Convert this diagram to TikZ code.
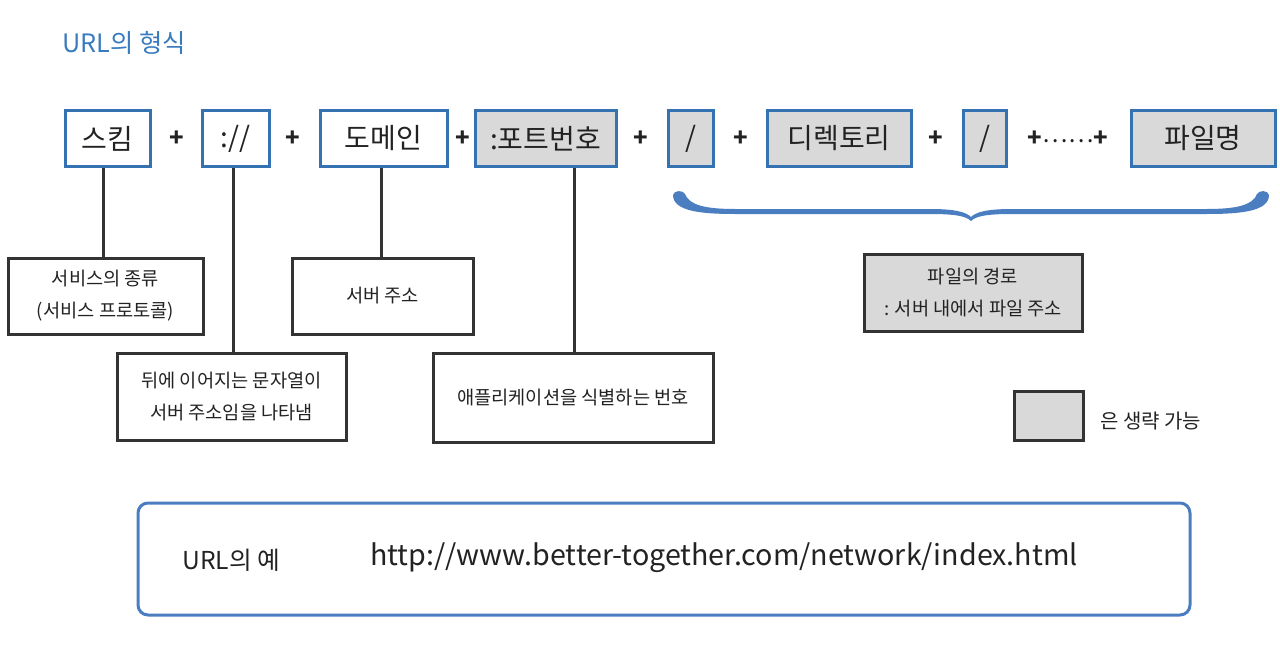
\documentclass[tikz,border=0pt]{standalone}
\usepackage{fontspec}
\setmainfont{Noto Sans CJK KR}
\newdimen\pxu \pxu=0.75pt
\definecolor{bluebd}{HTML}{3572B1}
\definecolor{titleblue}{HTML}{3A7BBF}
\definecolor{bracebl}{HTML}{4A7EC0}
\definecolor{grayfill}{HTML}{D9D9D9}
\definecolor{darkbd}{HTML}{333333}
\definecolor{txt}{HTML}{222222}
\tikzset{
  topbox/.style={draw=bluebd, line width=3\pxu, minimum height=55\pxu, inner sep=0pt, text=txt, font=\fontsize{21}{24}\selectfont},
  opt/.style={fill=grayfill},
  expbox/.style={draw=darkbd, line width=3\pxu, fill=white, inner sep=0pt, align=center, text=txt, font=\fontsize{14}{24}\selectfont},
  plus/.style={text=txt, inner sep=0pt, font=\fontsize{18}{20}\selectfont\bfseries},
  conn/.style={draw=darkbd, line width=3\pxu},
}
\begin{document}
\begin{tikzpicture}[x=0.75pt, y=-0.75pt]
\useasboundingbox (0,0) rectangle (1280,663);
% title
\node[anchor=west, text=titleblue, inner sep=0pt, font=\fontsize{19}{20}\selectfont] (title) at (62,43) {URL의 형식};
% top row
\node[topbox, minimum width=85\pxu] (skim) at (107.5,138.5) {스킴};
\node[plus] (p1) at (177,138.5) {+};
\node[topbox, minimum width=67\pxu] (sep) at (235.5,138.5) {://};
\node[plus] (p2) at (293,138.5) {+};
\node[topbox, minimum width=127\pxu] (dom) at (383.5,138.5) {도메인};
\node[plus] (p3) at (463,138.5) {+};
\node[topbox, opt, minimum width=141\pxu] (port) at (545.5,138.5) {:포트번호};
\node[plus] (p4) at (641,138.5) {+};
\node[topbox, opt, minimum width=45\pxu] (sl1) at (690.5,138.5) {/};
\node[plus] (p5) at (741,138.5) {+};
\node[topbox, opt, minimum width=144\pxu] (dir) at (839,138.5) {디렉토리};
\node[plus] (p6) at (936,138.5) {+};
\node[topbox, opt, minimum width=43\pxu] (sl2) at (984.5,138.5) {/};
\node[plus] (p7) at (1068,138.5) {+\raisebox{3pt}{\mdseries……}+};
\node[topbox, opt, minimum width=144\pxu] (file) at (1203,138.5) {파일명};
% explanation boxes
\node[expbox, minimum width=195\pxu, minimum height=76\pxu] (e1) at (105.5,296) {서비스의 종류\\(서비스 프로토콜)};
\node[expbox, minimum width=181\pxu, minimum height=76\pxu] (e3) at (382.5,296) {서버 주소};
\node[expbox, minimum width=229\pxu, minimum height=87\pxu] (e2) at (231.5,396.5) {뒤에 이어지는 문자열이\\서버 주소임을 나타냄};
\node[expbox, minimum width=280\pxu, minimum height=89\pxu] (e4) at (573,397.5) {애플리케이션을 식별하는 번호};
\node[expbox, fill=grayfill, minimum width=218\pxu, minimum height=77\pxu] (path) at (973,292.5) {파일의 경로\\: 서버 내에서 파일 주소};
\node[expbox, fill=grayfill, minimum width=69\pxu, minimum height=49\pxu] (leg) at (1048.5,415.5) {};
\node[anchor=west, inner sep=0pt, text=txt, font=\fontsize{15}{16}\selectfont] (legt) at (1100,421) {은 생략 가능};
% connectors
\draw[conn] (e1.north -| 103,0) -- (skim.south -| 103,0);
\draw[conn] (sep.south -| 233,0) -- (e2.north -| 233,0);
\draw[conn] (dom.south -| 381,0) -- (e3.north -| 381,0);
\draw[conn] (port.south -| 574,0) -- (e4.north -| 574,0);
% brace
\fill[bracebl] (673,195) .. controls (673,211) and (700,214) .. (735,214) -- (930,214) .. controls (955,214) and (966,216) .. (971,221) -- (971,217) .. controls (966,212) and (955,209) .. (930,209) -- (735,209) .. controls (705,209) and (689,205) .. (685,194) .. controls (683,190) and (674,190) .. (673,195) -- cycle;
\begin{scope}[shift={(1942,0)}, xscale=-1]
\fill[bracebl] (673,195) .. controls (673,211) and (700,214) .. (735,214) -- (930,214) .. controls (955,214) and (966,216) .. (971,221) -- (971,217) .. controls (966,212) and (955,209) .. (930,209) -- (735,209) .. controls (705,209) and (689,205) .. (685,194) .. controls (683,190) and (674,190) .. (673,195) -- cycle;
\end{scope}
% example box
\draw[draw=bracebl, line width=3\pxu, rounded corners=10\pxu] (138,503) rectangle (1190,615);
\node[anchor=west, inner sep=0pt, text=txt, font=\fontsize{18.5}{20}\selectfont] (exl) at (182,560) {URL의 예};
\node[anchor=west, inner sep=0pt, text=txt, font=\fontsize{21.5}{24}\selectfont] (url) at (370,558) {http://www.better-together.com/network/index.html};
\end{tikzpicture}
\end{document}
